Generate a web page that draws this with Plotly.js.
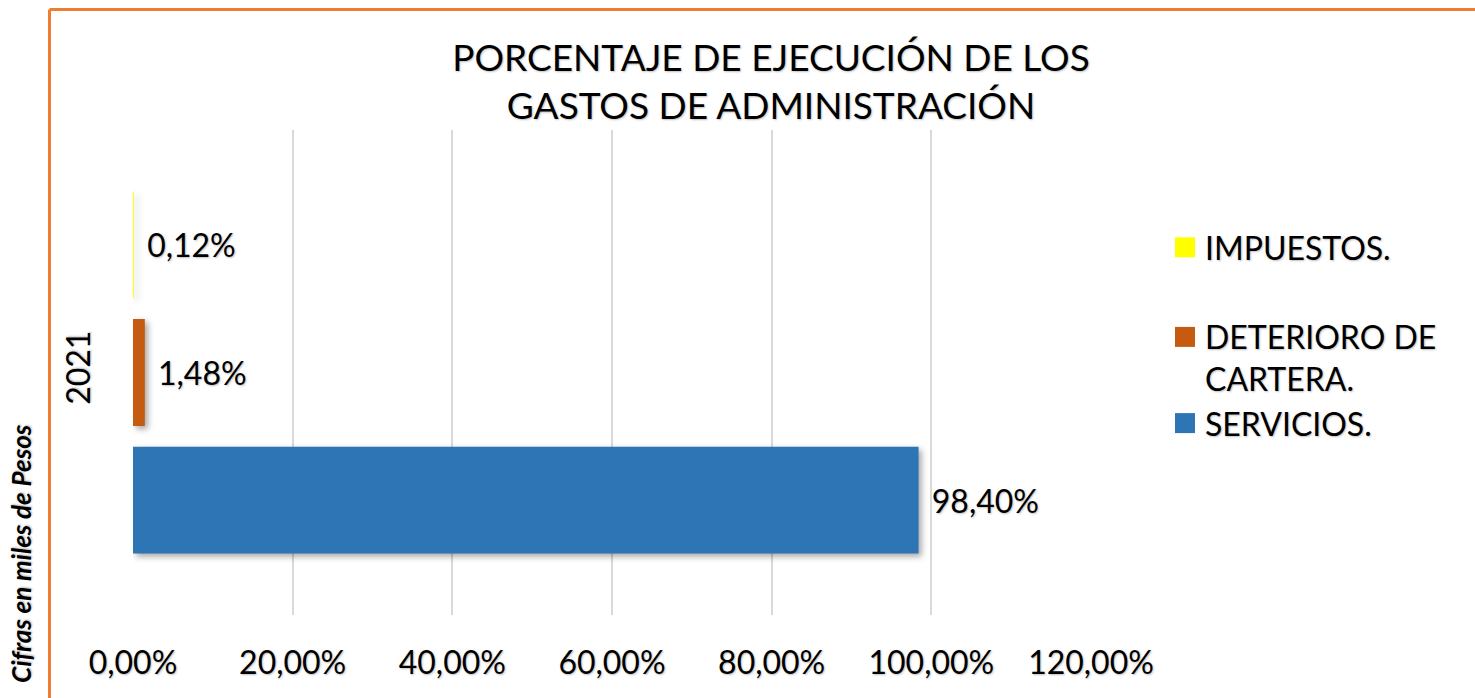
<!DOCTYPE html>
<html>
<head>
<meta charset="utf-8">
<script src="https://cdn.plot.ly/plotly-3.0.1.min.js"></script>
<style>
  html, body { margin: 0; padding: 0; background: #ffffff; }
  #chart { width: 1475px; height: 698px; }
  .bars .point path { filter: drop-shadow(3px 3px 3px rgba(0,0,0,0.35)); }
  .main-svg text { text-shadow: 1px 1px 2px rgba(0,0,0,0.25); }
</style>
</head>
<body>
<div id="chart"></div>
<script>
// ---- data ----
const categories = ["2021"];
const seriesNames = ["SERVICIOS.", "DETERIORO DE<br>CARTERA.", "IMPUESTOS."];
const servicios = [0.984];
const deterioro = [0.0148];
const impuestos = [0.0012];
const xTickVals = [0, 0.2, 0.4, 0.6, 0.8, 1.0, 1.2];
const titleText = "PORCENTAJE DE EJECUCIÓN DE LOS<br>GASTOS DE ADMINISTRACIÓN";
const sideNote = "Cifras en miles de Pesos";

const FONT = "Lato, 'Open Sans', sans-serif";
const colors = ["#2E75B6", "#C55A11", "#FFFF00"];
const seriesValues = [servicios, deterioro, impuestos];
const groups = ["g2", "g2", "g1"];
const ranks = [3, 2, 1];

const traces = seriesValues.map((vals, i) => ({
  type: "bar",
  orientation: "h",
  name: seriesNames[i],
  x: vals,
  y: categories,
  marker: { color: colors[i], line: { width: 0 } },
  texttemplate: "\u00A0\u200A%{x:.2%}",
  textposition: "outside",
  textfont: { family: FONT, size: 32, color: "#000000" },
  constraintext: "none",
  cliponaxis: false,
  legendgroup: groups[i],
  legendrank: ranks[i],
  hoverinfo: "skip"
}));

const L = 133, R = 1091, T = 130, B = 615;
const pw = R - L, ph = B - T;
const px = v => (v - L) / pw;
const py = v => (B - v) / ph;

const layout = {
  width: 1475,
  height: 698,
  margin: { l: L, r: 1475 - R, t: T, b: 698 - B, pad: 0 },
  paper_bgcolor: "#ffffff",
  plot_bgcolor: "#ffffff",
  separators: ",.",
  font: { family: FONT, size: 32, color: "#000000" },
  title: {
    text: titleText,
    font: { family: FONT, size: 37, color: "#000000" },
    x: 771 / 1475,
    xref: "container",
    xanchor: "center",
    y: 1 - 71 / 698,
    yref: "container",
    yanchor: "middle"
  },
  barmode: "group",
  bargap: 0.21,
  bargroupgap: 0.164,
  xaxis: {
    range: [0, 1.2],
    tickvals: xTickVals,
    tickformat: ".2%",
    showgrid: true,
    gridcolor: "#d9d9d9",
    gridwidth: 2,
    zeroline: false,
    showline: false,
    ticks: "",
    ticklabelstandoff: 26,
    tickfont: { family: FONT, size: 32, color: "#000000" },
    fixedrange: true
  },
  yaxis: {
    type: "category",
    showgrid: false,
    zeroline: false,
    showline: false,
    ticks: "",
    tickangle: -90,
    ticklabelstandoff: 36,
    tickfont: { family: FONT, size: 32, color: "#000000" },
    fixedrange: true
  },
  showlegend: true,
  legend: {
    x: px(1165),
    xanchor: "left",
    y: py(220),
    yanchor: "top",
    traceorder: "grouped",
    tracegroupgap: 45,
    valign: "top",
    font: { family: FONT, size: 32, color: "#000000" },
    bgcolor: "rgba(0,0,0,0)",
    borderwidth: 0
  },
  shapes: [
    { type: "line", xref: "paper", yref: "paper", x0: px(49.5), x1: px(1480), y0: py(9.5), y1: py(9.5),
      line: { color: "#ED7D31", width: 3 } },
    { type: "line", xref: "paper", yref: "paper", x0: px(49.5), x1: px(49.5), y0: py(9.5), y1: py(705),
      line: { color: "#ED7D31", width: 3 } }
  ],
  annotations: [
    {
      text: sideNote,
      xref: "paper", yref: "paper",
      x: px(21), y: py(554),
      xanchor: "center", yanchor: "middle",
      textangle: -90,
      showarrow: false,
      font: { family: FONT, size: 26, color: "#000000", weight: "bold", style: "italic" }
    }
  ]
};

const gd = document.getElementById("chart");
function fixLegendSymbols() {
  gd.querySelectorAll(".legendpoints path").forEach(p => {
    p.setAttribute("d", "M10,10H-10V-10H10Z");
    p.style.strokeWidth = "0px";
  });
}
Plotly.newPlot(gd, traces, layout, { displayModeBar: false, staticPlot: true }).then(() => {
  fixLegendSymbols();
  gd.on("plotly_afterplot", fixLegendSymbols);
  setTimeout(fixLegendSymbols, 50);
  setTimeout(fixLegendSymbols, 300);
});
</script>
</body>
</html>
